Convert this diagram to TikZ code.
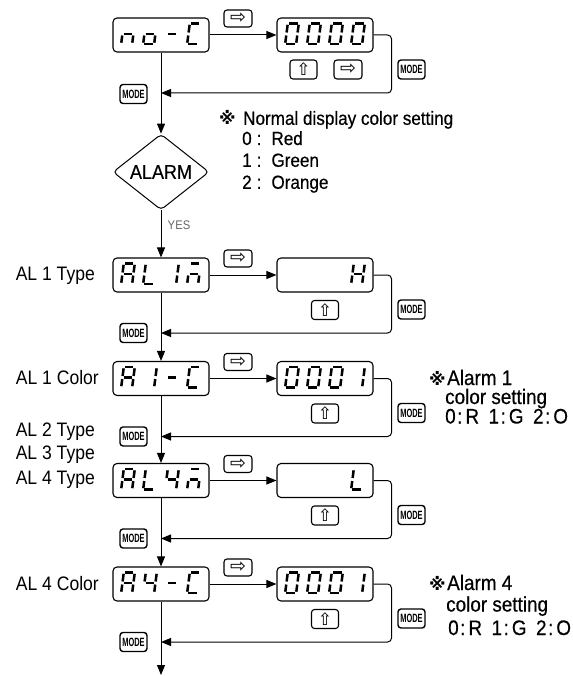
\documentclass[tikz,border=0pt]{standalone}
\usepackage{fontspec}
\setmainfont{Liberation Sans}[FakeStretch=0.9]
\newfontfamily\medfont{Liberation Sans}[FakeStretch=0.9, FakeBold=0.5]
\newfontfamily\symfont{DejaVu Sans}
\newfontfamily\modefont{Liberation Sans}[FakeStretch=0.62]
\usetikzlibrary{arrows.meta,shapes.geometric}
% seven segment glyph: #1 = origin (bottom-left of cell), #2..#8 = segments a..g
\newcommand\SegDraw[8]{%
  \begin{scope}[shift={(#1)},xslant=0.13]
  \ifnum#2=1\relax\draw[segline] (2.3,-21.5)--(10.7,-21.5);\fi
  \ifnum#3=1\relax\draw[segline] (12,-20.2)--(12,-12.5);\fi
  \ifnum#4=1\relax\draw[segline] (12,-9.5)--(12,-2.3);\fi
  \ifnum#5=1\relax\draw[segline] (2.3,-1)--(10.7,-1);\fi
  \ifnum#6=1\relax\draw[segline] (1,-9.5)--(1,-2.3);\fi
  \ifnum#7=1\relax\draw[segline] (1,-20.2)--(1,-12.5);\fi
  \ifnum#8=1\relax\draw[segline] (2.3,-11)--(10.7,-11);\fi
  \end{scope}}
\newcommand\SevSeg[2]{\SegDraw{#1}#2}
\newcommand\Disp[6]{%
  \SevSeg{#1,#2}{#3}\SevSeg{#1+22,#2}{#4}\SevSeg{#1+44,#2}{#5}\SevSeg{#1+66,#2}{#6}}
\newcommand\colset[2]{#1\hspace{1.5pt}:\hspace{3pt}#2}
\begin{document}
\begin{tikzpicture}[x=1pt,y=-1pt,
  disp/.style={draw, line width=1.1pt, rounded corners=4pt, minimum width=96pt, minimum height=34pt, inner sep=0pt},
  btn/.style={draw, line width=1.1pt, rounded corners=3pt, minimum width=28pt, minimum height=17pt, inner sep=0pt, font=\symfont\fontsize{19}{19}\selectfont},
  upbtn/.style={btn, minimum width=27pt, minimum height=19pt, font=\symfont\fontsize{17}{17}\selectfont},
  modebtn/.style={draw, line width=1.4pt, rounded corners=3pt, minimum width=27pt, minimum height=19pt, inner sep=0pt, font=\modefont\bfseries\fontsize{12}{12}\selectfont},
  flow/.style={line width=1pt, -{Triangle[length=10pt,width=8pt]}},
  segline/.style={line width=2.5pt},
  lbl/.style={inner sep=0pt, anchor=base east, font=\fontsize{19.5}{22}\selectfont},
  note/.style={inner sep=0pt, anchor=base west, font=\medfont\fontsize{19}{22}\selectfont},
  anote/.style={inner sep=0pt, anchor=base west, font=\medfont\fontsize{21}{24}\selectfont},
  kome/.style={inner sep=0pt, anchor=base west, font=\symfont\bfseries\fontsize{17}{17}\selectfont},
  yeslbl/.style={inner sep=0pt, text=black!60, font=\fontsize{12.5}{12.5}\selectfont}
]
\useasboundingbox (0,0) rectangle (572,676);

% ---------- Row 0 : no-C ----------
\node[disp] (noC) at (161,35) {};
\node[disp] (v0) at (325,35) {};
\Disp{120}{45}{0010101}{0011101}{0000001}{1001110}
\Disp{284}{45}{1111110}{1111110}{1111110}{1111110}
\node[btn] (r0) at (238,18.5) {⇨};
\node[upbtn] (u0) at (303.5,69.5) {⇧};
\node[btn, minimum height=19pt] (s0) at (348,69.5) {⇨};
\node[modebtn] (m0r) at (411.5,69.5) {MODE};
\node[modebtn] (m0l) at (133.5,94) {MODE};
\coordinate (j0) at (161,93);
\draw[flow] (noC) -- (v0);
\draw[flow, rounded corners=4pt] (v0.east) -- ++(18,0) |- (j0);

% ---------- note ----------
\node[kome] (k0) at (219,124.8) {※};
\node[note] (n0) at (243,124.8) {Normal display color setting};
\node[note] (n1) at (242,145) {0\hspace{5pt}:\hspace{10pt}Red};
\node[note] (n2) at (242,166.8) {1\hspace{5pt}:\hspace{10pt}Green};
\node[note] (n3) at (242,188.8) {2\hspace{5pt}:\hspace{10pt}Orange};

% ---------- ALARM ----------
\node[diamond, draw, line width=1pt, minimum width=96pt, minimum height=70pt, inner sep=0pt, rounded corners=4pt, font=\medfont\fontsize{20}{20}\selectfont] (alarm) at (161,172) {ALARM};
\draw[flow] (noC.south) -- (alarm.north);
\node[yeslbl] (yes) at (179,225) {YES};

% ---------- Row 1 : AL 1 Type ----------
\node[lbl] (l1) at (95,280) {AL 1 Type};
\node[disp] (t1) at (161,275) {};
\node[disp] (v1) at (325,275) {};
\Disp{120}{285}{1110111}{0001110}{0110000}{1010101}
\Disp{284}{285}{0000000}{0000000}{0000000}{0110111}
\node[btn] (r1) at (238,258.5) {⇨};
\node[upbtn] (u1) at (325,310) {⇧};
\node[modebtn] (m1r) at (411.5,309.5) {MODE};
\node[modebtn] (m1l) at (133.5,333) {MODE};
\coordinate (j1) at (161,333);
\draw[flow] (alarm.south) -- (t1.north);
\draw[flow] (t1) -- (v1);
\draw[flow, rounded corners=4pt] (v1.east) -- ++(18,0) |- (j1);

% ---------- Row 2 : AL 1 Color ----------
\node[lbl] (l2) at (99,384) {AL 1 Color};
\node[disp] (t2) at (161,378.5) {};
\node[disp] (v2) at (325,378.5) {};
\Disp{120}{388.5}{1110111}{0110000}{0000001}{1001110}
\Disp{284}{388.5}{1111110}{1111110}{1111110}{0110000}
\node[btn] (r2) at (238,362) {⇨};
\node[upbtn] (u2) at (325,413.5) {⇧};
\node[modebtn] (m2r) at (411.5,413) {MODE};
\node[modebtn] (m2l) at (133.5,436.5) {MODE};
\coordinate (j2) at (161,436.5);
\draw[flow] (t1.south) -- (t2.north);
\draw[flow] (t2) -- (v2);
\draw[flow, rounded corners=4pt] (v2.east) -- ++(18,0) |- (j2);
\node[kome] (k2) at (429,385) {※};
\node[anote] (a21) at (447,385) {Alarm 1};
\node[anote] (a22) at (445,404) {color setting};
\node[anote] (a23) at (445,423.5) {\colset{0}{R}\hspace{9.5pt}\colset{1}{G}\hspace{9.5pt}\colset{2}{O}};

% ---------- labels AL 2/3/4 Type ----------
\node[lbl] (l3) at (95,436.6) {AL 2 Type};
\node[lbl] (l4) at (95,459.6) {AL 3 Type};
\node[lbl] (l5) at (95,484.6) {AL 4 Type};

% ---------- Row 3 : AL 4 Type ----------
\node[disp] (t3) at (161,480.5) {};
\node[disp] (v3) at (325,480.5) {};
\Disp{120}{490.5}{1110111}{0001110}{0110011}{1010101}
\Disp{284}{490.5}{0000000}{0000000}{0000000}{0001110}
\node[btn] (r3) at (238,464) {⇨};
\node[upbtn] (u3) at (325,515.5) {⇧};
\node[modebtn] (m3r) at (411.5,515) {MODE};
\node[modebtn] (m3l) at (133.5,538.5) {MODE};
\coordinate (j3) at (161,538.5);
\draw[flow] (t2.south) -- (t3.north);
\draw[flow] (t3) -- (v3);
\draw[flow, rounded corners=4pt] (v3.east) -- ++(18,0) |- (j3);

% ---------- Row 4 : AL 4 Color ----------
\node[lbl] (l6) at (99,590) {AL 4 Color};
\node[disp] (t4) at (161,584) {};
\node[disp] (v4) at (325,584) {};
\Disp{120}{594}{1110111}{0110011}{0000001}{1001110}
\Disp{284}{594}{1111110}{1111110}{1111110}{0110000}
\node[btn] (r4) at (238,567.5) {⇨};
\node[upbtn] (u4) at (325,619) {⇧};
\node[modebtn] (m4r) at (411.5,618.5) {MODE};
\node[modebtn] (m4l) at (133.5,642) {MODE};
\coordinate (j4) at (161,642);
\coordinate (endpt) at (161,675);
\draw[flow] (t3.south) -- (t4.north);
\draw[flow] (t4) -- (v4);
\draw[flow, rounded corners=4pt] (v4.east) -- ++(18,0) |- (j4);
\draw[flow] (t4.south) -- (endpt);
\node[kome] (k4) at (429,590) {※};
\node[anote] (a41) at (447,590) {Alarm 4};
\node[anote] (a42) at (446,611.5) {color setting};
\node[anote] (a43) at (448,635) {\colset{0}{R}\hspace{9.5pt}\colset{1}{G}\hspace{9.5pt}\colset{2}{O}};
\end{tikzpicture}
\end{document}
